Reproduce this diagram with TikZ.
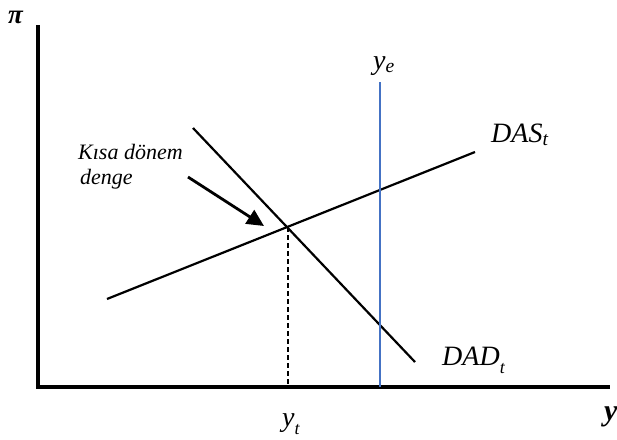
\documentclass[tikz,border=0pt]{standalone}
\usepackage{fontspec}
\setmainfont{Liberation Serif}
\usetikzlibrary{arrows.meta}
\definecolor{vblue}{RGB}{68,114,196}
\newcommand{\lowsub}[1]{\raisebox{-0.3em}{\fontsize{18}{20}\selectfont #1}}
\begin{document}
\begin{tikzpicture}[x=1pt,y=-1pt,
  axis/.style={line width=3.4pt},
  curve/.style={line width=2.2pt},
  lbl/.style={font=\fontsize{28}{30}\selectfont\itshape, inner sep=0pt, anchor=base west},
  note/.style={font=\fontsize{22}{24}\selectfont\itshape, inner sep=0pt, anchor=base west}]
\useasboundingbox (0,0) rectangle (617,439);
% axes
\coordinate (O) at (38,387);
\coordinate (Ytop) at (38,25);
\coordinate (Xend) at (610,387);
\draw[axis] (Ytop) -- (O) -- (Xend);
\node[font=\fontsize{27}{29}\selectfont\bfseries\itshape, inner sep=0pt, anchor=base west] (pi) at (8,23) {π};
\node[font=\fontsize{30}{32}\selectfont\bfseries\itshape, inner sep=0pt, anchor=base west] (yax) at (604,420) {y};
% curves
\coordinate (das1) at (107,299);
\coordinate (das2) at (475,152);
\coordinate (dad1) at (193,128);
\coordinate (dad2) at (415,362);
\draw[curve] (das1) -- (das2);
\draw[curve] (dad1) -- (dad2);
% ye vertical
\coordinate (ye1) at (380,82);
\coordinate (ye2) at (380,387);
\draw[vblue, line width=2.2pt] (ye1) -- (ye2);
% equilibrium
\coordinate (E) at (288,227);
\coordinate (Ebot) at (288,386);
\draw[line width=1.3pt, dash pattern=on 5pt off 3pt] (E) -- (Ebot);
% labels
\node[lbl] (yelab) at (373,69) {y\textsubscript{e}};
\node[lbl] (daslab) at (491,142) {DAS\textsubscript{t}};
\node[lbl] (dadlab) at (442,365) {DAD\lowsub{t}};
\node[lbl] (ytlab) at (282,426) {y\lowsub{t}};
\node[note] (kisa) at (78,159) {Kısa dönem};
\node[note] (denge) at (80,184) {denge};
\coordinate (astart) at (188,177);
\coordinate (aend) at (264,226);
\draw[line width=2.8pt, -{Triangle[length=17pt,width=16pt]}] (astart) -- (aend);
\end{tikzpicture}
\end{document}
